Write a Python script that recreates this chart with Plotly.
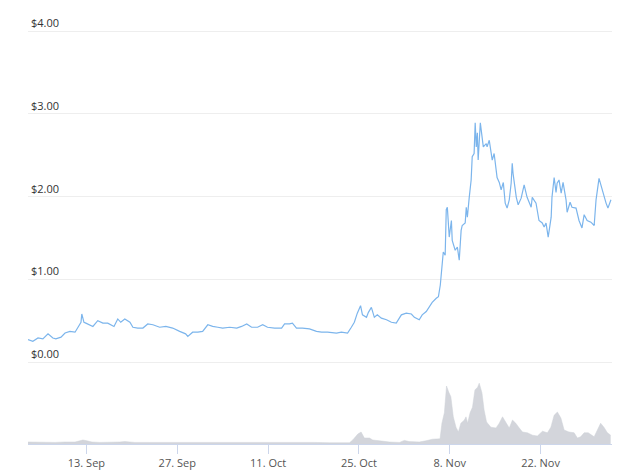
import plotly.graph_objects as go

# ---- data ----
price_times = [
    "2021-09-04 00:00", "2021-09-04 18:00", "2021-09-05 13:00", "2021-09-06 07:00", "2021-09-07 02:00",
    "2021-09-07 20:00", "2021-09-08 07:00", "2021-09-09 02:00", "2021-09-09 17:00", "2021-09-10 11:00",
    "2021-09-11 06:00", "2021-09-11 17:00", "2021-09-12 04:00", "2021-09-12 07:00", "2021-09-12 15:00",
    "2021-09-12 22:00", "2021-09-13 13:00", "2021-09-14 00:00", "2021-09-14 18:00", "2021-09-15 13:00",
    "2021-09-16 07:00", "2021-09-17 06:00", "2021-09-17 20:00", "2021-09-18 07:00", "2021-09-18 22:00",
    "2021-09-19 17:00", "2021-09-20 04:00", "2021-09-20 22:00", "2021-09-21 17:00", "2021-09-22 11:00",
    "2021-09-23 06:00", "2021-09-24 07:00", "2021-09-25 06:00", "2021-09-26 07:00", "2021-09-27 09:00",
    "2021-09-28 07:00", "2021-09-28 15:00", "2021-09-29 09:00", "2021-09-30 04:00", "2021-09-30 22:00",
    "2021-10-01 17:00", "2021-10-02 11:00", "2021-10-03 06:00", "2021-10-04 00:00", "2021-10-05 02:00",
    "2021-10-06 04:00", "2021-10-06 22:00", "2021-10-07 17:00", "2021-10-08 11:00", "2021-10-09 09:00",
    "2021-10-10 04:00", "2021-10-10 22:00", "2021-10-12 00:00", "2021-10-13 02:00", "2021-10-13 13:00",
    "2021-10-14 07:00", "2021-10-14 18:00", "2021-10-15 09:00", "2021-10-16 07:00", "2021-10-17 09:00",
    "2021-10-18 11:00", "2021-10-19 06:00", "2021-10-20 04:00", "2021-10-21 13:00", "2021-10-22 07:00",
    "2021-10-23 06:00", "2021-10-23 20:00", "2021-10-24 07:00", "2021-10-24 18:00", "2021-10-25 06:00",
    "2021-10-25 13:00", "2021-10-26 04:00", "2021-10-26 11:00", "2021-10-26 22:00", "2021-10-27 09:00",
    "2021-10-27 20:00", "2021-10-28 11:00", "2021-10-29 06:00", "2021-10-30 00:00", "2021-10-30 18:00",
    "2021-10-31 13:00", "2021-11-01 07:00", "2021-11-02 02:00", "2021-11-02 13:00", "2021-11-03 07:00",
    "2021-11-03 18:00", "2021-11-04 09:00", "2021-11-04 20:00", "2021-11-05 07:00", "2021-11-05 22:00",
    "2021-11-06 06:00", "2021-11-06 13:00", "2021-11-06 20:00", "2021-11-07 00:00", "2021-11-07 07:00",
    "2021-11-07 11:00", "2021-11-07 15:00", "2021-11-07 22:00", "2021-11-08 06:00", "2021-11-08 09:00",
    "2021-11-08 20:00", "2021-11-09 04:00", "2021-11-09 11:00", "2021-11-09 18:00", "2021-11-09 22:00",
    "2021-11-10 09:00", "2021-11-10 13:00", "2021-11-10 17:00", "2021-11-11 00:00", "2021-11-11 07:00",
    "2021-11-11 11:00", "2021-11-11 18:00", "2021-11-11 22:00", "2021-11-12 02:00", "2021-11-12 06:00",
    "2021-11-12 09:00", "2021-11-12 17:00", "2021-11-13 00:00", "2021-11-13 04:00", "2021-11-13 15:00",
    "2021-11-13 18:00", "2021-11-14 02:00", "2021-11-14 09:00", "2021-11-14 13:00", "2021-11-14 20:00",
    "2021-11-15 04:00", "2021-11-15 07:00", "2021-11-15 15:00", "2021-11-15 22:00", "2021-11-16 06:00",
    "2021-11-16 13:00", "2021-11-16 20:00", "2021-11-17 04:00", "2021-11-17 11:00", "2021-11-17 15:00",
    "2021-11-17 18:00", "2021-11-18 02:00", "2021-11-18 06:00", "2021-11-18 13:00", "2021-11-19 00:00",
    "2021-11-19 11:00", "2021-11-19 22:00", "2021-11-20 13:00", "2021-11-20 17:00", "2021-11-21 07:00",
    "2021-11-21 18:00", "2021-11-22 06:00", "2021-11-22 13:00", "2021-11-22 20:00", "2021-11-23 04:00",
    "2021-11-23 15:00", "2021-11-23 18:00", "2021-11-24 02:00", "2021-11-24 09:00", "2021-11-24 13:00",
    "2021-11-24 20:00", "2021-11-25 04:00", "2021-11-25 11:00", "2021-11-25 22:00", "2021-11-26 02:00",
    "2021-11-26 13:00", "2021-11-26 20:00", "2021-11-27 11:00", "2021-11-27 22:00", "2021-11-28 09:00",
    "2021-11-28 17:00", "2021-11-29 04:00", "2021-11-29 18:00", "2021-11-30 06:00", "2021-11-30 13:00",
    "2021-12-01 00:00", "2021-12-01 11:00", "2021-12-01 18:00", "2021-12-02 02:00", "2021-12-02 09:00",
    "2021-12-02 20:00",
]
price_usd = [
    0.27, 0.25, 0.29, 0.28, 0.34,
    0.29, 0.28, 0.30, 0.35, 0.37,
    0.36, 0.43, 0.48, 0.58, 0.48,
    0.47, 0.45, 0.43, 0.50, 0.47,
    0.47, 0.43, 0.52, 0.48, 0.52,
    0.48, 0.42, 0.41, 0.41, 0.46,
    0.45, 0.42, 0.43, 0.41, 0.37,
    0.34, 0.31, 0.36, 0.36, 0.37,
    0.45, 0.43, 0.42, 0.41, 0.42,
    0.41, 0.43, 0.46, 0.42, 0.42,
    0.45, 0.42, 0.41, 0.41, 0.46,
    0.46, 0.47, 0.41, 0.41, 0.40,
    0.37, 0.36, 0.36, 0.35, 0.36,
    0.35, 0.42, 0.48, 0.59, 0.68,
    0.57, 0.54, 0.60, 0.66, 0.54,
    0.57, 0.53, 0.51, 0.48, 0.47,
    0.57, 0.59, 0.58, 0.54, 0.51,
    0.57, 0.61, 0.66, 0.72, 0.77,
    0.79, 0.93, 1.15, 1.33, 1.29,
    1.84, 1.87, 1.51, 1.71, 1.47,
    1.35, 1.39, 1.23, 1.59, 1.65,
    1.68, 1.87, 1.75, 1.99, 2.20,
    2.48, 2.52, 2.89, 2.60, 2.77,
    2.44, 2.89, 2.72, 2.60, 2.64,
    2.60, 2.68, 2.52, 2.44, 2.52,
    2.34, 2.23, 2.17, 2.08, 2.17,
    1.92, 1.86, 1.96, 2.16, 2.40,
    2.28, 2.08, 1.99, 1.90, 1.98,
    2.14, 1.99, 1.87, 1.99, 1.92,
    1.71, 1.68, 1.63, 1.68, 1.51,
    1.75, 1.99, 2.23, 2.05, 2.16,
    2.20, 2.04, 2.17, 1.96, 1.81,
    1.93, 1.87, 1.86, 1.71, 1.62,
    1.78, 1.71, 1.69, 1.65, 1.96,
    2.22, 2.08, 1.99, 1.92, 1.86,
    1.96,
]

volume_times = [
    "2021-09-04 00:00", "2021-09-05 20:00", "2021-09-08 04:00", "2021-09-09 17:00", "2021-09-11 06:00",
    "2021-09-12 00:00", "2021-09-12 11:00", "2021-09-13 02:00", "2021-09-13 20:00", "2021-09-15 02:00",
    "2021-09-16 15:00", "2021-09-18 04:00", "2021-09-18 22:00", "2021-09-20 11:00", "2021-09-22 18:00",
    "2021-09-24 07:00", "2021-09-25 20:00", "2021-09-28 04:00", "2021-09-29 17:00", "2021-10-01 06:00",
    "2021-10-02 18:00", "2021-10-05 02:00", "2021-10-08 04:00", "2021-10-10 11:00", "2021-10-12 18:00",
    "2021-10-15 20:00", "2021-10-18 04:00", "2021-10-20 11:00", "2021-10-23 13:00", "2021-10-24 01:00",
    "2021-10-24 20:00", "2021-10-25 08:00", "2021-10-25 20:00", "2021-10-26 15:00", "2021-10-27 03:00",
    "2021-10-28 04:00", "2021-10-29 17:00", "2021-10-31 06:00", "2021-11-01 00:00", "2021-11-01 18:00",
    "2021-11-03 07:00", "2021-11-04 08:00", "2021-11-05 08:00", "2021-11-06 12:00", "2021-11-06 19:00",
    "2021-11-07 04:00", "2021-11-07 12:00", "2021-11-07 20:00", "2021-11-08 04:00", "2021-11-08 13:00",
    "2021-11-08 23:00", "2021-11-09 08:00", "2021-11-09 17:00", "2021-11-10 06:00", "2021-11-10 12:00",
    "2021-11-10 18:00", "2021-11-11 03:00", "2021-11-11 12:00", "2021-11-11 21:00", "2021-11-12 07:00",
    "2021-11-12 13:00", "2021-11-12 23:00", "2021-11-13 07:00", "2021-11-13 16:00", "2021-11-14 08:00",
    "2021-11-15 03:00", "2021-11-15 15:00", "2021-11-16 03:00", "2021-11-16 16:00", "2021-11-17 04:00",
    "2021-11-17 16:00", "2021-11-18 04:00", "2021-11-18 17:00", "2021-11-19 05:00", "2021-11-19 23:00",
    "2021-11-20 18:00", "2021-11-21 12:00", "2021-11-22 07:00", "2021-11-23 01:00", "2021-11-23 14:00",
    "2021-11-24 02:00", "2021-11-24 14:00", "2021-11-25 03:00", "2021-11-25 15:00", "2021-11-26 09:00",
    "2021-11-27 04:00", "2021-11-27 16:00", "2021-11-28 04:00", "2021-11-28 17:00", "2021-11-29 08:00",
    "2021-11-30 06:00", "2021-11-30 18:00", "2021-12-01 06:00", "2021-12-01 18:00", "2021-12-02 07:00",
    "2021-12-02 19:00",
]
volume_musd = [
    5, 4, 4, 5, 5,
    8, 10, 8, 5, 4,
    4, 5, 6, 4, 4,
    4, 4, 4, 4, 5,
    5, 4, 4, 4, 4,
    5, 4, 3, 3, 10,
    25, 30, 15, 15, 10,
    8, 5, 4, 9, 6,
    5, 8, 12, 13, 52,
    78, 145, 130, 118, 68,
    42, 30, 52, 60, 68,
    52, 78, 92, 135, 142,
    152, 128, 85, 55, 42,
    40, 52, 68, 52, 40,
    60, 52, 40, 30, 28,
    22, 20, 32, 28, 42,
    72, 80, 65, 35, 30,
    28, 15, 18, 28, 28,
    18, 35, 52, 42, 28,
    22,
]

price_ticks = [0, 1, 2, 3, 4]
price_tick_labels = ["$0.00", "$1.00", "$2.00", "$3.00", "$4.00"]
date_ticks = ["2021-09-13", "2021-09-27", "2021-10-11", "2021-10-25", "2021-11-08", "2021-11-22"]
date_tick_labels = ["13. Sep", "27. Sep", "11. Oct", "25. Oct", "8. Nov", "22. Nov"]

# ---- layout constants ----
W, H = 626, 471
M_L, M_R, M_T, M_B = 28, 14, 10, 27
plot_h = H - M_T - M_B
plot_bottom_px = H - M_B
price_zero_px = 362          # pixel row of the $0.00 gridline
price_top_px = 31            # pixel row of the $4.00 gridline
px_per_usd = (price_zero_px - price_top_px) / 4.0
price_range_lo = -(plot_bottom_px - price_zero_px) / px_per_usd
price_range_hi = (price_zero_px - M_T) / px_per_usd
vol_dom_hi = 0.2
vol_range_hi = 2.5 * vol_dom_hi * plot_h   # 2.5 M$ per pixel

FONT = "Open Sans, Noto Sans, sans-serif"

fig = go.Figure()
fig.add_trace(go.Scatter(
    x=volume_times, y=volume_musd, yaxis="y2", mode="lines",
    line=dict(color="#cfd2d8", width=0.5, shape="linear"),
    fill="tozeroy", fillcolor="#d3d5db", hoverinfo="skip", showlegend=False,
))
fig.add_trace(go.Scatter(
    x=price_times, y=price_usd, mode="lines",
    line=dict(color="#7cb5ec", width=1.2),
    showlegend=False,
))

fig.update_layout(
    template="none",
    width=W, height=H,
    margin=dict(l=M_L, r=M_R, t=M_T, b=M_B, pad=0),
    paper_bgcolor="white", plot_bgcolor="rgba(0,0,0,0)",
    font=dict(family=FONT, size=11, color="#333333"),
    xaxis=dict(
        type="date", automargin=False,
        range=["2021-09-04 00:00", "2021-12-03 00:00"],
        tickvals=date_ticks, ticktext=date_tick_labels,
        showgrid=False, zeroline=False,
        showline=True, linecolor="#ccd6eb", linewidth=1,
        ticks="outside", ticklen=9, tickcolor="#ccd6eb", tickwidth=1,
        tickfont=dict(family=FONT, size=11, color="#555555"),
        anchor="y2",
    ),
    yaxis=dict(
        domain=[0, 1], automargin=False,
        range=[price_range_lo, price_range_hi],
        tickvals=price_ticks, ticktext=price_tick_labels,
        showgrid=True, gridcolor="#eeeeee", gridwidth=1,
        zeroline=False, showline=False, ticks="",
        ticklabelposition="inside top",
        tickfont=dict(family=FONT, size=11, color="#333333"),
    ),
    yaxis2=dict(
        domain=[0, vol_dom_hi], automargin=False,
        range=[0, vol_range_hi],
        showgrid=False, zeroline=False, showline=False,
        showticklabels=False, ticks="",
    ),
)

fig.write_html(
    "out.html",
    config={"displayModeBar": False},
    post_script="document.body.style.margin='0';document.body.style.padding='0';",
)
